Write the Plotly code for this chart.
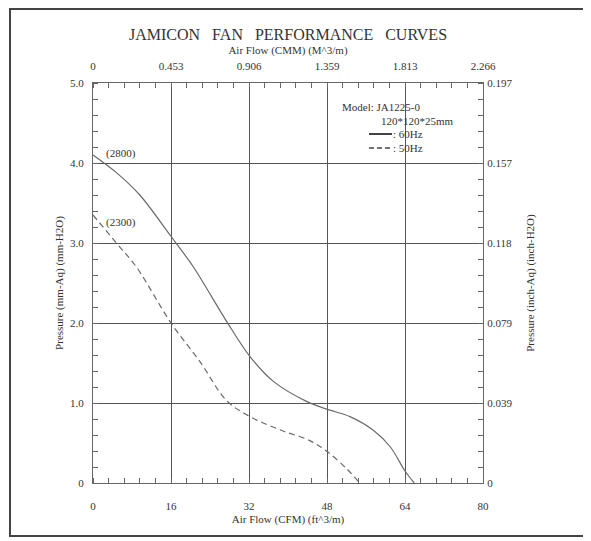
import plotly.graph_objects as go

# ---- data ----
cfm_60 = [0, 4.8, 9.6, 15.8, 20.6, 27.4, 32.2, 37.0, 43.8, 48.1, 52.7, 57.5, 61.0, 64.0, 65.9]
p_60 = [4.1, 3.88, 3.6, 3.1, 2.7, 2.02, 1.58, 1.27, 1.02, 0.92, 0.83, 0.66, 0.45, 0.15, 0.0]
cfm_50 = [0, 4.8, 8.9, 16.0, 21.9, 27.4, 32.2, 39.0, 44.5, 48.1, 52.0, 54.7]
p_50 = [3.35, 3.0, 2.7, 2.0, 1.52, 1.03, 0.83, 0.65, 0.53, 0.39, 0.18, 0.0]

cfm_ticks = [0, 16, 32, 48, 64, 80]
cmm_labels = ["0", "0.453", "0.906", "1.359", "1.813", "2.266"]
mm_ticks = [0, 1, 2, 3, 4, 5]
mm_labels = ["0", "1.0", "2.0", "3.0", "4.0", "5.0"]
inch_labels = ["0", "0.039", "0.079", "0.118", "0.157", "0.197"]

FONT = "Liberation Serif, Times New Roman, serif"
TXT = "#333333"
GRID = "#555555"
CURVE = "#6a6a6a"

OFF = 8  # page body margin
# plot area in reference-window pixels
L, R, T, B = 93, 483, 83, 483
W, H = 591 - OFF, 541 - OFF
def px(x): return (x - L) / (R - L)
def py(y): return (B - y) / (B - T)

fig = go.Figure()
fig.add_trace(go.Scatter(x=cfm_60, y=p_60, mode="lines",
                         line=dict(color=CURVE, width=1.2, shape="spline", smoothing=0.9),
                         showlegend=False, hoverinfo="skip"))
fig.add_trace(go.Scatter(x=cfm_50, y=p_50, mode="lines",
                         line=dict(color=CURVE, width=1.2, shape="spline", smoothing=1.0, dash="6px,4px"),
                         showlegend=False, hoverinfo="skip"))
# invisible trace to activate secondary axes
fig.add_trace(go.Scatter(x=[0, 80], y=[0, 5], xaxis="x2", yaxis="y2", mode="markers",
                         marker=dict(opacity=0), showlegend=False, hoverinfo="skip"))

tickfont = dict(family=FONT, size=11, color=TXT)
titlefont = dict(family=FONT, size=11, color=TXT)
minor_x = dict(dtick=3.2, tick0=0, ticks="inside", ticklen=5, tickcolor="#666", showgrid=False)
minor_y = dict(dtick=0.2, tick0=0, ticks="inside", ticklen=5, tickcolor="#666", showgrid=False)
fig.update_layout(
    width=W, height=H,
    margin=dict(l=L - OFF, r=W - (R - OFF), t=T - OFF, b=H - (B - OFF), pad=0, autoexpand=False),
    paper_bgcolor="white", plot_bgcolor="white",
    font=dict(family=FONT, color=TXT),
    xaxis=dict(range=[0, 80], tickvals=cfm_ticks, ticktext=[str(v) for v in cfm_ticks],
               showgrid=True, gridcolor=GRID, gridwidth=1, zeroline=False,
               showline=True, linecolor="#666", linewidth=1,
               ticks="", ticklabelstandoff=13, tickfont=tickfont, minor=minor_x,
               title=dict(text="Air Flow (CFM) (ft^3/m)", font=titlefont, standoff=4),
               fixedrange=True),
    xaxis2=dict(range=[0, 80], overlaying="x", side="top", anchor="y",
                tickvals=cfm_ticks, ticktext=cmm_labels,
                showgrid=False, zeroline=False, showline=True, linecolor="#666", linewidth=1,
                ticks="", ticklabelstandoff=8, tickfont=tickfont, minor=minor_x,
                title=dict(text="Air Flow (CMM) (M^3/m)", font=titlefont, standoff=2),
                fixedrange=True),
    yaxis=dict(range=[0, 5], tickvals=mm_ticks, ticktext=mm_labels,
               showgrid=True, gridcolor=GRID, gridwidth=1, zeroline=False,
               showline=True, linecolor="#666", linewidth=1,
               ticks="", ticklabelstandoff=6, tickfont=tickfont, minor=minor_y,
               title=dict(text="Pressure (mm-Aq) (mm-H2O)", font=titlefont, standoff=4),
               fixedrange=True),
    yaxis2=dict(range=[0, 5], overlaying="y", side="right", anchor="x",
                tickvals=mm_ticks, ticktext=inch_labels,
                showgrid=False, zeroline=False, showline=True, linecolor="#666", linewidth=1,
                ticks="", ticklabelstandoff=1, tickfont=tickfont, minor=minor_y,
                title=dict(text="Pressure (inch-Aq) (inch-H2O)", font=titlefont, standoff=14),
                fixedrange=True),
)

def note(text, x, y, size=11, anchor="left"):
    return dict(text=text, x=px(x), y=py(y), xref="paper", yref="paper", showarrow=False,
                xanchor=anchor, yanchor="middle", font=dict(family=FONT, size=size, color=TXT))

ann = [
    note("JAMICON&nbsp;&nbsp;&nbsp;FAN&nbsp;&nbsp;&nbsp;PERFORMANCE&nbsp;&nbsp;&nbsp;CURVES", 288, 35, size=16, anchor="center"),
    note("(2800)", 104, 153),
    note("(2300)", 104, 222),
    note("Model: JA1225-0", 340, 107),
    note("120*120*25mm", 379, 121),
    note(": 60Hz", 391, 134),
    note(": 50Hz", 391, 148),
]
fig.update_layout(annotations=ann)

shapes = [
    dict(type="line", xref="paper", yref="paper", x0=px(369), x1=px(392), y0=py(134), y1=py(134),
         line=dict(color="#444", width=2)),
    dict(type="line", xref="paper", yref="paper", x0=px(369), x1=px(392), y0=py(148), y1=py(148),
         line=dict(color="#444", width=1.5, dash="5px,3px")),
    # outer frame
    dict(type="rect", xref="paper", yref="paper", x0=px(10), x1=px(584), y0=py(9), y1=py(536),
         line=dict(color="#444", width=2), layer="below"),
]
fig.update_layout(shapes=shapes)

fig.write_html("out.html")
